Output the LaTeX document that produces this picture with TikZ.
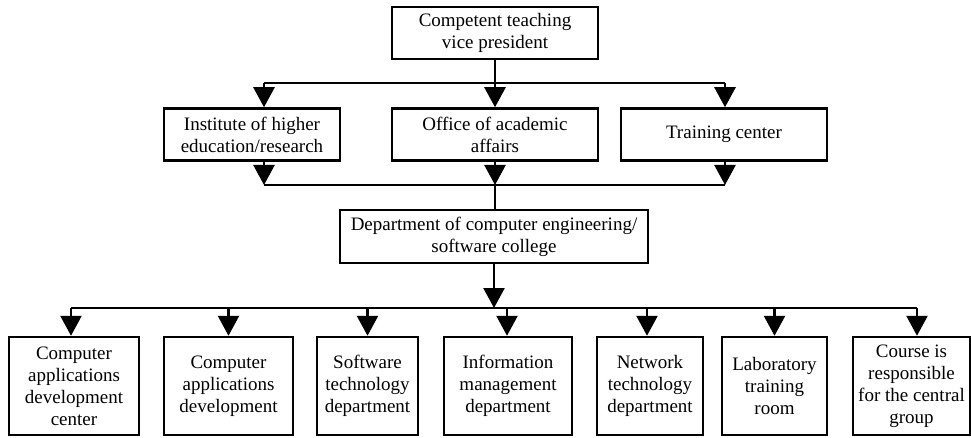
\documentclass[tikz,border=0pt]{standalone}
\usepackage{fontspec}
\setmainfont{Liberation Serif}
\usetikzlibrary{arrows.meta}
\tikzset{
  box/.style={draw, line width=2.5pt, inner sep=0pt, align=center,
    font=\fontsize{19}{22}\selectfont},
  conn/.style={line width=2.5pt},
  arr/.style={conn, -{Triangle[width=21pt,length=20pt]}},
}
\begin{document}
\begin{tikzpicture}[x=1pt,y=-1pt]
\useasboundingbox (0,0) rectangle (971,438);
% nodes
\node[box, minimum width=206pt, minimum height=52pt] (top) at (495,33) {Competent teaching\\vice president};
\node[box, minimum width=176pt, minimum height=52pt] (inst) at (252,134.5) {Institute of higher\\education/research};
\node[box, minimum width=206pt, minimum height=52pt] (office) at (495,134.5) {Office of academic\\affairs};
\node[box, minimum width=206pt, minimum height=52pt] (train) at (724,134.5) {Training center};
\node[box, minimum width=308pt, minimum height=53pt] (dept) at (494,236.5) {Department of computer engineering/\\software college};
\node[box, minimum width=130pt, minimum height=98pt] (b1) at (74,386) {Computer\\applications\\development\\center};
\node[box, minimum width=129pt, minimum height=98pt] (b2) at (228.5,386) {Computer\\applications\\development};
\node[box, minimum width=101pt, minimum height=98pt] (b3) at (367.5,386) {Software\\technology\\department};
\node[box, minimum width=128pt, minimum height=98pt] (b4) at (508,386) {Information\\management\\department};
\node[box, minimum width=106pt, minimum height=98pt] (b5) at (650,386) {Network\\technology\\department};
\node[box, minimum width=105pt, minimum height=98pt] (b6) at (774.5,386) {Laboratory\\training\\room};
\node[box, minimum width=117pt, minimum height=98pt] (b7) at (911.5,386) {Course is\\responsible\\for the central\\group};
% bar coordinates
\coordinate (aL) at (264,83);
\coordinate (aR) at (725,83);
\coordinate (cL) at (264,185);
\coordinate (cR) at (725,185);
\coordinate (cM) at (495,185);
\coordinate (dL) at (71,308);
\coordinate (dR) at (917,308);
\coordinate (dM) at (494,308);
% top level
\draw[conn] (aL) -- (aR);
\draw[arr] (top.south) -- (office.north);
\draw[arr] (aL) -- (aL |- inst.north);
\draw[arr] (aR) -- (aR |- train.north);
% second level to bar
\draw[conn] (cL) -- (cR);
\draw[arr] (cL |- inst.south) -- (cL);
\draw[arr] (office.south) -- (cM);
\draw[arr] (cR |- train.south) -- (cR);
\draw[conn] (cM) -- (cM |- dept.north);
% department to bottom
\draw[arr] (dept.south) -- (dM);
\draw[conn] (dL) -- (dR);
\draw[arr] (dL) -- (dL |- b1.north);
\draw[arr] (b2.north |- dL) -- (b2.north);
\draw[arr] (b3.north |- dL) -- (b3.north);
\draw[arr] (507,308) coordinate (d4) -- (d4 |- b4.north);
\draw[arr] (647,308) coordinate (d5) -- (d5 |- b5.north);
\draw[arr] (b6.north |- dL) -- (b6.north);
\draw[arr] (dR) -- (dR |- b7.north);
\end{tikzpicture}
\end{document}
